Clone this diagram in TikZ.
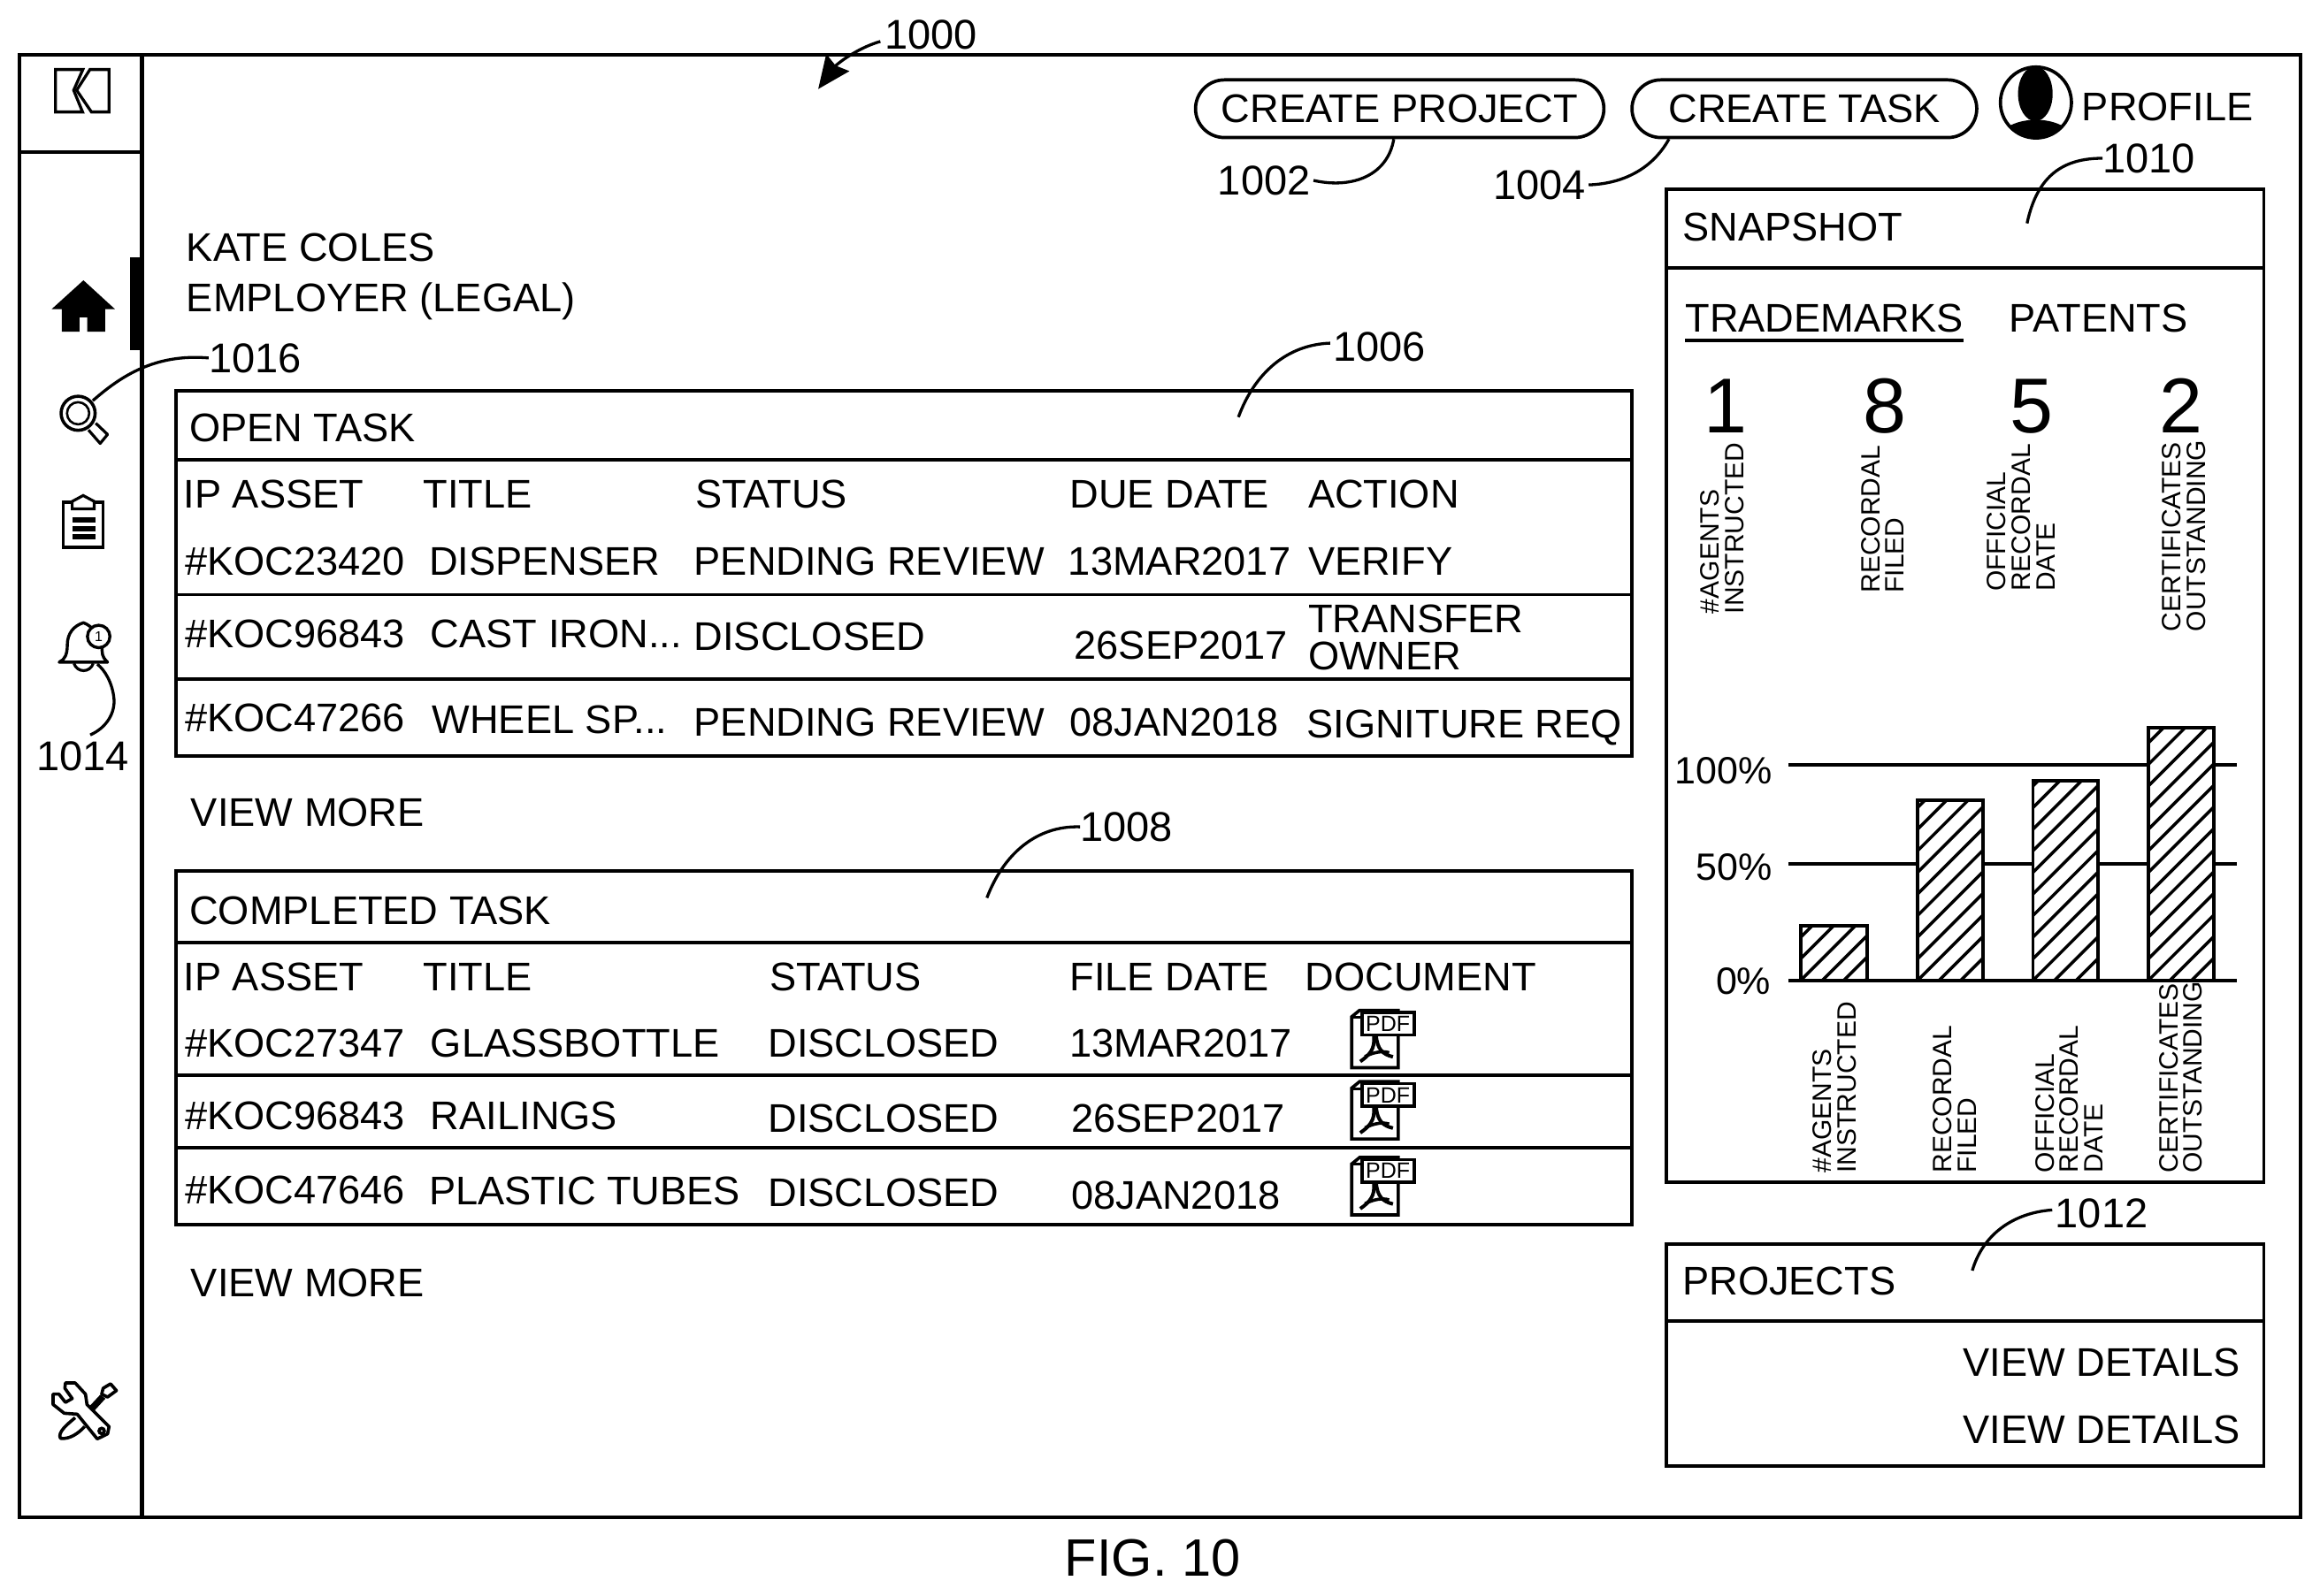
\documentclass[tikz,border=0pt]{standalone}
\usepackage{fontspec}
\setmainfont{Liberation Sans}
\usetikzlibrary{arrows.meta,shapes.misc}
\newcommand\fs[1]{\fontsize{#1}{#1}\selectfont}
\newcommand\lab[5][]{\node[lbl,#1] (#2) at (#3,#4) {#5};}
\newcommand\barhatch[3]{%
  \fill[white] (#1,#2) rectangle (#3,663);
  \begin{scope}
    \clip (#1,#2) rectangle (#3,663);
    \foreach \hk in {0,...,30}
      \draw[hatchline] ({#1-190+\hk*14.6},663) -- ++(260,-260);
  \end{scope}
  \draw[panel] (#1,#2) rectangle (#3,663);}
\newcommand\pdficon[2]{%
  \begin{scope}[shift={(777.1,#2)},scale=0.1992]
    \draw[line width=3.6pt,line join=miter] (685,323) -- (685,150) -- (712,128) -- (843,128) -- (843,323) -- cycle;
    \draw[line width=3pt] (690,152) -- (716,152);
    \draw[line width=3.6pt,fill=white] (720,135) rectangle (897,212);
    \node[font=\fs{25},inner sep=0pt] (#1) at (808,174) {PDF};
    \draw[line width=4pt] (760,215) .. controls (765,260) and (745,280) .. (714,302);
    \draw[line width=4pt] (768,215) .. controls (772,260) and (790,278) .. (825,286);
    \draw[line width=3.6pt] (730,285) .. controls (760,270) and (790,265) .. (812,272);
  \end{scope}}
\begin{document}
\begin{tikzpicture}[x=1.6728pt,y=-1.6728pt,
  lbl/.style={inner sep=0pt,anchor=west,text height=32.4pt,text depth=0pt,font=\fs{45.2}},
  numlbl/.style={lbl,text height=33.6pt,font=\fs{47}},
  pctlbl/.style={lbl,anchor=east,text height=30.8pt,font=\fs{43}},
  biglbl/.style={lbl,anchor=center,text height=63pt,font=\fs{88}},
  rotlbl/.style={inner sep=0pt,anchor=west,rotate=90,align=left,font=\fontsize{30}{27.6}\selectfont},
  frame/.style={line width=4.3pt},
  panel/.style={line width=3.9pt},
  leader/.style={line width=3.3pt},
  hatchline/.style={line width=3.5pt},
  pill/.style={rounded rectangle,draw,line width=3.7pt,minimum height=65.2pt,inner sep=0pt,font=\fs{45.2}}]
\useasboundingbox (0,0) rectangle (1568,1079);
% outer frame
\draw[frame] (13,37) rectangle (1555,1026);
\draw[frame] (96,37) -- (96,1026);
\draw[frame] (13,103) -- (96,103);
% logo
\draw[line width=3.3pt] (37.5,47) -- (56,47) -- (49.8,61) -- (55.8,75.7) -- (37.5,75.7) -- cycle;
\draw[line width=3.3pt] (60.8,47) -- (51.8,61) -- (61.8,75.7) -- (73.7,75.7) -- (73.7,47) -- cycle;
% home
\fill (56.4,189.5) -- (77.7,209) -- (71.1,209) -- (71.1,224.2) -- (59,224.2) -- (59,214.5) -- (53.8,214.5) -- (53.8,224.2) -- (41.8,224.2) -- (41.8,209) -- (34.9,209) -- cycle;
\fill (87.6,174) rectangle (96.6,236.7);
% magnifier
\draw[line width=3.6pt] (52.8,279.4) circle[radius=11.5];
\draw[line width=2.6pt] (52.8,279.4) circle[radius=7.5];
\draw[line width=3.2pt,line join=round] (59.8,290.7) -- (67.7,299.8) -- (72.7,293.7) -- (64.7,286.1);
% clipboard
\draw[line width=3.6pt] (42.8,339.5) rectangle (69.7,370);
\draw[line width=3.2pt,fill=white] (48.8,344) -- (48.8,339) -- (56.2,335) -- (63.7,339) -- (63.7,344) -- cycle;
\fill (48.8,350) rectangle (64.7,353.5);
\fill (48.8,355.6) rectangle (64.7,359.1);
\fill (48.8,361.2) rectangle (64.7,364.7);
% bell
\draw[line width=3.4pt,line join=round] (40,447.7) .. controls (44,446) and (45.5,442) .. (45.5,436) .. controls (45.5,428) and (50,423) .. (56.4,421) .. controls (62,423) and (69,430) .. (69,440) .. controls (69,444) and (71,446) .. (72.7,447.7) -- cycle;
\draw[line width=3.2pt] (50,448.5) .. controls (52,455) and (61,455) .. (63,448.5);
\draw[line width=3.4pt,fill=white] (66.7,430.3) circle[radius=7.6];
\node[font=\fs{16},inner sep=0pt] (bellbadge) at (66.7,430.3) {1};
% tools
\begin{scope}[shift={(0,896.7)},scale=0.1992]
  \draw[line width=3.6pt,line join=round] (255,310) .. controls (225,335) and (195,360) .. (205,380) .. controls (235,385) and (268,362) .. (287,340);
  \fill (300,275) -- (340,232) -- (358,245) -- (315,292) -- cycle;
  \draw[line width=3.6pt,line join=round] (350,210) -- (375,195) -- (395,218) -- (365,240) -- (345,230) -- cycle;
  \draw[line width=3.6pt,line join=round,fill=white] (180,230) -- (200,230) -- (222,258) -- (245,245) -- (220,210) -- (222,192) -- (255,192) -- (290,230) -- (295,265) -- (370,340) -- (365,365) -- (330,382) -- (262,298) -- (218,295) -- (180,265) -- cycle;
  \draw[line width=3.6pt] (345,355) circle[radius=9];
\end{scope}
% top
\lab[numlbl]{n1000}{598}{23}{1000}
\coordinate (a1000) at (553,60.2);
\draw[leader,-{Stealth[length=37pt,width=32pt,inset=4pt]}] (n1000.west) ++(-3,5) .. controls (578,33) and (565,44) .. (a1000);
\node[pill,minimum width=461.7pt] (cproj) at (946,73.5) {CREATE PROJECT};
\node[pill,minimum width=389.8pt] (ctask) at (1219.5,73.5) {CREATE TASK};
\draw[line width=3.7pt] (1376,69.3) circle[radius=24];
\begin{scope}
  \clip (1376,69.3) circle[radius=24];
  \fill (1375.6,63.4) ellipse[x radius=11.7,y radius=18.5];
  \fill (1376,96) ellipse[x radius=26,y radius=15];
\end{scope}
\lab{profile}{1407}{72}{PROFILE}
\lab[numlbl]{n1002}{823}{122}{1002}
\coordinate (e1002) at (942,94);
\draw[leader] (n1002.east) ++(2,0) .. controls (915,128) and (938,118) .. (e1002);
\lab[numlbl]{n1004}{1009}{125}{1004}
\coordinate (e1004) at (1128,94);
\draw[leader] (n1004.east) ++(2,0) .. controls (1100,124) and (1118,112) .. (e1004);
\lab[numlbl]{n1010}{1421}{107}{1010}
\coordinate (e1010) at (1370,151);
\draw[leader] (n1010.west) .. controls (1395,107) and (1377,118) .. (e1010);
% snapshot panel
\draw[panel] (1126,128) rectangle (1530,799);
\draw[panel] (1126,181) -- (1530,181);
\lab{snap}{1137}{153}{SNAPSHOT}
\lab{tm}{1139}{215}{TRADEMARKS}
\draw[panel] (1139,230) -- (1327,230);
\lab{pat}{1358}{215}{PATENTS}
\node[biglbl] (b1) at (1166,274) {1};
\node[biglbl] (b8) at (1274,274) {8};
\node[biglbl] (b5) at (1373,274) {5};
\node[biglbl] (b2) at (1474,274) {2};
\node[rotlbl] (t1) at (1164,415) {\#AGENTS\\INSTRUCTED};
\node[rotlbl] (t2) at (1272.5,401) {RECORDAL\\FILED};
\node[rotlbl] (t3) at (1366,400) {OFFICIAL\\RECORDAL\\DATE};
\node[rotlbl] (t4) at (1476,427) {CERTIFICATES\\OUTSTANDING};
% chart
\draw[panel] (1209,517) -- (1512,517);
\draw[panel] (1209,584) -- (1512,584);
\draw[panel] (1209,663) -- (1512,663);
\barhatch{1217}{626}{1262}
\barhatch{1296}{541}{1340}
\barhatch{1374}{528}{1418}
\barhatch{1452}{492}{1496}
\lab[pctlbl]{p100}{1198}{521}{100\%}
\lab[pctlbl]{p50}{1198}{586}{50\%}
\lab[pctlbl]{p0}{1197}{663}{0\%}
\node[rotlbl] (u1) at (1240,793) {\#AGENTS\\INSTRUCTED};
\node[rotlbl] (u2) at (1321,793) {RECORDAL\\FILED};
\node[rotlbl] (u3) at (1398.5,793) {OFFICIAL\\RECORDAL\\DATE};
\node[rotlbl] (u4) at (1474,793) {CERTIFICATES\\OUTSTANDING};
% projects
\draw[panel] (1126,841) rectangle (1530,991);
\draw[panel] (1126,893) -- (1530,893);
\lab{projects}{1137}{866}{PROJECTS}
\lab[anchor=east]{vd1}{1514}{921}{VIEW DETAILS}
\lab[anchor=east]{vd2}{1514}{966}{VIEW DETAILS}
\lab[numlbl]{n1012}{1389}{820}{1012}
\coordinate (e1012) at (1333,859);
\draw[leader] (n1012.west) ++(-2,-2) .. controls (1360,820) and (1340,835) .. (e1012);
% left text
\lab{kate}{126}{167}{KATE COLES}
\lab{empl}{126}{201}{EMPLOYER (LEGAL)}
\lab[numlbl]{n1016}{141}{242}{1016}
\coordinate (e1016) at (62.7,270.9);
\draw[leader] (n1016.west) .. controls (105,239) and (82,254) .. (e1016);
\lab[numlbl]{n1006}{901}{234}{1006}
\coordinate (e1006) at (837,282);
\draw[leader] (n1006.west) ++(-2,-2) .. controls (870,233) and (848,252) .. (e1006);
% open task
\draw[panel] (119,264) rectangle (1103,511);
\draw[panel] (119,311) -- (1103,311);
\draw[panel] (119,402) -- (1103,402);
\draw[panel] (119,459) -- (1103,459);
\lab{ot}{128}{289}{OPEN TASK}
\lab{oh1}{124}{334}{IP ASSET}
\lab{oh2}{286}{334}{TITLE}
\lab{oh3}{470}{334}{STATUS}
\lab{oh4}{723}{334}{DUE DATE}
\lab{oh5}{884}{334}{ACTION}
\lab{o11}{125}{379}{\#KOC23420}
\lab{o12}{290}{379}{DISPENSER}
\lab{o13}{469}{379}{PENDING REVIEW}
\lab{o14}{722}{379}{13MAR2017}
\lab{o15}{884}{379}{VERIFY}
\lab{o21}{125}{428}{\#KOC96843}
\lab{o22}{291}{428}{CAST IRON...}
\lab{o23}{469}{430}{DISCLOSED}
\lab{o24}{726}{436}{26SEP2017}
\lab{o25}{884}{418}{TRANSFER}
\lab{o25b}{884}{443}{OWNER}
\lab{o31}{125}{485}{\#KOC47266}
\lab{o32}{292}{486}{WHEEL SP...}
\lab{o33}{469}{488}{PENDING REVIEW}
\lab{o34}{723}{488}{08JAN2018}
\lab{o35}{883}{489}{SIGNITURE REQ}
\lab{vm1}{129}{549}{VIEW MORE}
\lab[numlbl]{n1008}{730}{559}{1008}
\coordinate (e1008) at (667,607);
\draw[leader] (n1008.west) .. controls (700,558) and (678,578) .. (e1008);
% completed task
\draw[panel] (119,589) rectangle (1103,828);
\draw[panel] (119,637) -- (1103,637);
\draw[panel] (119,727) -- (1103,727);
\draw[panel] (119,776) -- (1103,776);
\lab{ct}{128}{615}{COMPLETED TASK}
\lab{ch1}{124}{660}{IP ASSET}
\lab{ch2}{286}{660}{TITLE}
\lab{ch3}{520}{660}{STATUS}
\lab{ch4}{723}{660}{FILE DATE}
\lab{ch5}{882}{660}{DOCUMENT}
\lab{c11}{125}{705}{\#KOC27347}
\lab{c12}{291}{705}{GLASSBOTTLE}
\lab{c13}{519}{705}{DISCLOSED}
\lab{c14}{723}{705}{13MAR2017}
\lab{c21}{125}{754}{\#KOC96843}
\lab{c22}{291}{754}{RAILINGS}
\lab{c23}{519}{756}{DISCLOSED}
\lab{c24}{724}{756}{26SEP2017}
\lab{c31}{125}{804}{\#KOC47646}
\lab{c32}{290}{805}{PLASTIC TUBES}
\lab{c33}{519}{806}{DISCLOSED}
\lab{c34}{724}{808}{08JAN2018}
\pdficon{pdf1}{657.5}
\pdficon{pdf2}{705.7}
\pdficon{pdf3}{757}
\lab{vm2}{129}{867}{VIEW MORE}
\lab[numlbl,anchor=center]{n1014}{56}{511}{1014}
\coordinate (e1014) at (65.7,449);
\draw[leader] (n1014.north) ++(5,-4) .. controls (72,492) and (78,482) .. (77,472) .. controls (76,462) and (71,453) .. (e1014);
\lab[anchor=center,text height=42.7pt,font=\fs{59.5}]{fig}{779}{1053}{FIG. 10}
\end{tikzpicture}
\end{document}
